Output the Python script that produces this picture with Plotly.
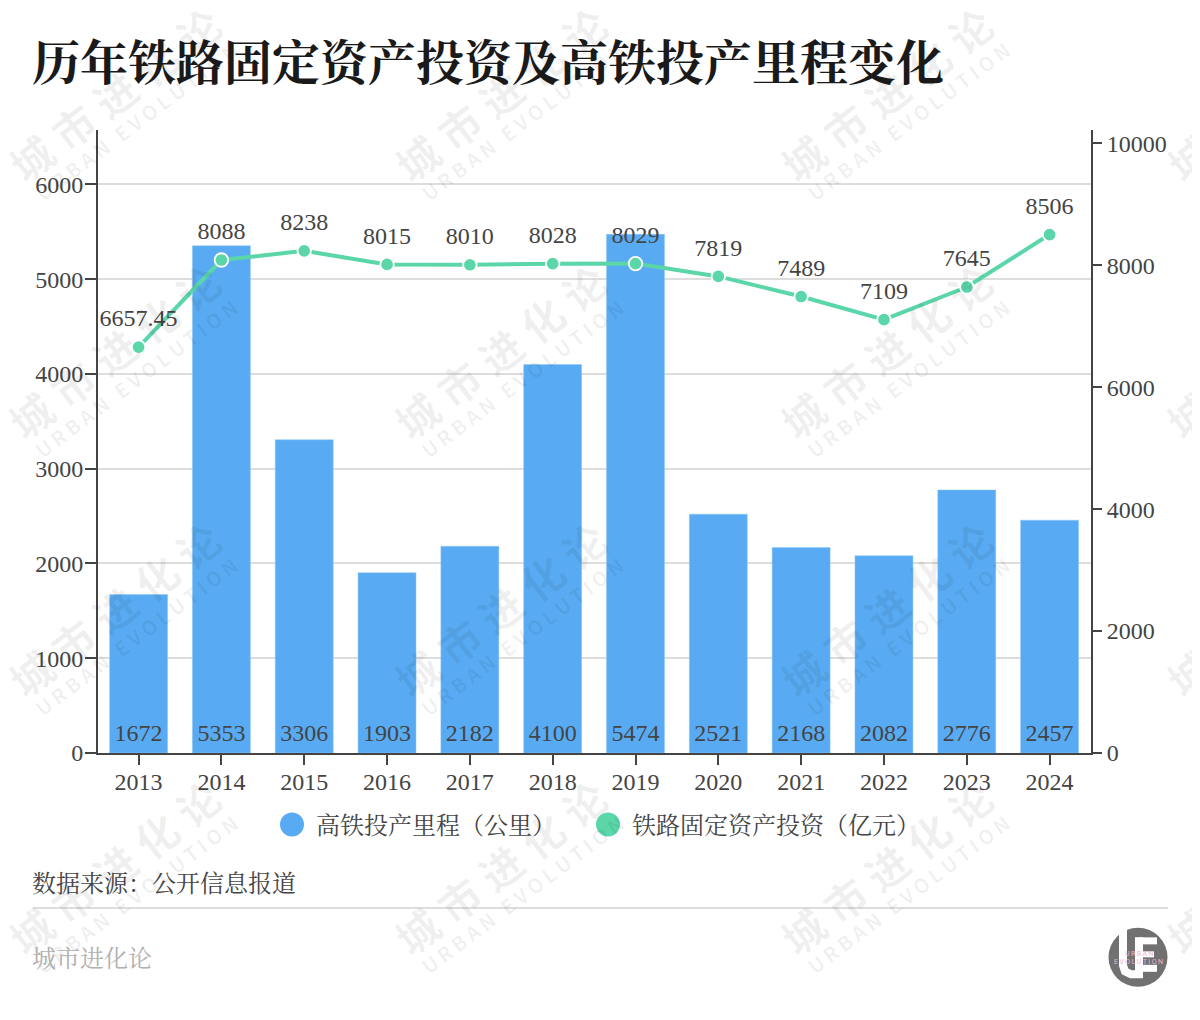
import plotly.graph_objects as go

# the page body has an 8px margin, so page pixels are offset from figure pixels
OFF = 8
W, H = 1192, 1012
# plot area in page pixels
L, R, T, B = 98, 1091, 130, 753.5

years = ["2013", "2014", "2015", "2016", "2017", "2018", "2019", "2020", "2021", "2022", "2023", "2024"]
hsr_km = [1672, 5353, 3306, 1903, 2182, 4100, 5474, 2521, 2168, 2082, 2776, 2457]
invest = [6657.45, 8088, 8238, 8015, 8010, 8028, 8029, 7819, 7489, 7109, 7645, 8506]
invest_labels = ["6657.45", "8088", "8238", "8015", "8010", "8028", "8029", "7819", "7489", "7109", "7645", "8506"]
left_ticks = [0, 1000, 2000, 3000, 4000, 5000, 6000]
right_ticks = [0, 2000, 4000, 6000, 8000, 10000]

BLUE = "#58abf2"
GREEN = "#5ad6a9"
INK = "#444444"
FONT = "Liberation Serif, Noto Serif CJK SC, Noto Sans CJK SC"


def px(x):
    return (x - L) / (R - L)


def py(y):
    return (B - y) / (B - T)


def label(x, y, text, size=24, color=INK, anchor="left", **kw):
    return dict(x=px(x), y=py(y), xref="paper", yref="paper", text=text, showarrow=False,
                xanchor=anchor, yanchor="middle",
                font=dict(size=size, color=color, family=kw.pop("family", FONT)), **kw)


def stroke(points, width=8):
    """White logo stroke through page-pixel points."""
    path = "M " + " L ".join(f"{px(x):.5f},{py(y):.5f}" for x, y in points)
    return dict(type="path", xref="paper", yref="paper", path=path, line=dict(color="white", width=width))


fig = go.Figure()

fig.add_trace(go.Bar(x=years, y=hsr_km, name="高铁投产里程（公里）", width=0.7,
                     marker=dict(color=BLUE, line=dict(color="#8fc6f6", width=0.5))))
# bar values sit at the foot of each bar, invisible marker sets the gap
fig.add_trace(go.Scatter(x=years, y=[0] * len(years), mode="markers+text", marker=dict(size=8, opacity=0),
                         text=hsr_km, textposition="top center", hoverinfo="skip",
                         textfont=dict(size=24, color=INK, family=FONT), cliponaxis=False))
fig.add_trace(go.Scatter(x=years, y=invest, yaxis="y2", name="铁路固定资产投资（亿元）", mode="lines+markers",
                         line=dict(color=GREEN, width=4),
                         marker=dict(color=GREEN, size=13.5, line=dict(color="white", width=1.8))))
fig.add_trace(go.Scatter(x=years, y=invest, yaxis="y2", mode="markers+text", marker=dict(size=22, opacity=0),
                         text=invest_labels, textposition="top center", hoverinfo="skip",
                         textfont=dict(size=24, color=INK, family=FONT), cliponaxis=False))

annotations = []
shapes = []

# watermark tiles, drawn over the chart
for cx in [114, 500, 886, 1272]:
    for cy in [93, 351, 609, 867]:
        annotations.append(label(cx, cy, "<b>" + "\u2005".join("城市进化论") + "</b>", size=42, color="rgba(0,0,0,0.06)",
                                 anchor="center", textangle=-37.5, family="Noto Sans CJK SC"))
        annotations.append(label(cx + 22, cy + 28, "<b>" + "\u2009".join("URBAN EVOLUTION") + "</b>", size=20,
                                 color="rgba(0,0,0,0.06)", anchor="center", textangle=-37, family="Noto Sans CJK SC"))

annotations.append(label(30, 63, "<b>历年铁路固定资产投资及高铁投产里程变化</b>", size=48, color="#1a1a1a"))

# legend keys
for x0, color, name in [(292, BLUE, "高铁投产里程（公里）"), (608, GREEN, "铁路固定资产投资（亿元）")]:
    shapes.append(dict(type="circle", xref="paper", yref="paper", x0=px(x0 - 12), x1=px(x0 + 12),
                       y0=py(825 + 12), y1=py(825 - 12), fillcolor=color, line_width=0))
    annotations.append(label(x0 + 22, 827, name))

annotations.append(label(30, 885, "数据来源：公开信息报道"))
annotations.append(label(30, 960, "城市进化论", color="#b0b0b0"))
shapes.append(dict(type="line", xref="paper", yref="paper", x0=px(33), x1=px(1168), y0=py(908.5), y1=py(908.5),
                   line=dict(color="#dddddd", width=2)))

# logo
shapes.append(dict(type="circle", xref="paper", yref="paper", x0=px(1108.5), x1=px(1167.5), y0=py(987.5), y1=py(928.5),
                   fillcolor="#717171", line_width=0))
shapes.append(stroke([(1123, 930), (1123, 966), (1125, 972), (1131, 975), (1139, 975), (1139, 938)]))
shapes.append(stroke([(1139, 941.5), (1157, 941.5)], width=7))
shapes.append(stroke([(1139, 955), (1154, 955)], width=6))
shapes.append(stroke([(1139, 969), (1157, 969)], width=7))
annotations.append(label(1139, 955, "\u2009".join("URBAN"), size=7, color="#f0b4cf", anchor="center", family="Roboto"))
annotations.append(label(1138.5, 963, "\u2009".join("EVOLUTION"), size=7, color="#f0b4cf", anchor="center", family="Roboto"))

fig.update_layout(
    width=W, height=H, autosize=False,
    margin=dict(l=L - OFF, r=W - (R - OFF), t=T - OFF, b=H - (B - OFF), pad=0),
    paper_bgcolor="white", plot_bgcolor="white",
    font=dict(family=FONT, size=24, color=INK),
    showlegend=False, bargap=0.3,
    annotations=annotations, shapes=shapes,
    xaxis=dict(type="category", range=[-0.49, 11.5], showline=True, linecolor=INK, linewidth=2, ticks="outside", ticklen=10,
               tickwidth=2, tickcolor=INK, showgrid=False, tickfont=dict(size=24, color=INK), ticklabelstandoff=-4),
    yaxis=dict(range=[0, 6575], tickvals=left_ticks, showline=True, linecolor=INK, linewidth=2,
               ticks="outside", ticklen=11, tickwidth=2, tickcolor=INK, gridcolor="#dddddd", gridwidth=2,
               zeroline=False, tickfont=dict(size=24, color=INK), ticklabelstandoff=-3),
    yaxis2=dict(range=[0, 10221], tickvals=right_ticks, tickformat="d", overlaying="y", side="right", showline=True,
                linecolor=INK, linewidth=2, ticks="outside", ticklen=9, tickwidth=2, tickcolor=INK,
                showgrid=False, zeroline=False, tickfont=dict(size=24, color=INK)),
)

fig.write_html("out.html")
